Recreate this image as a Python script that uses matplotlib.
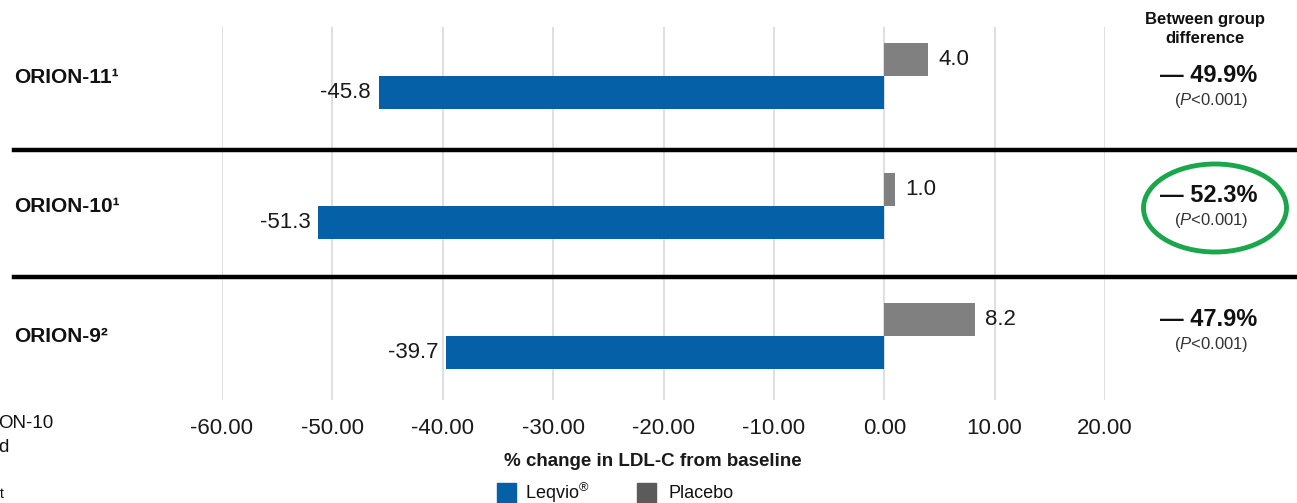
import matplotlib.pyplot as plt
from matplotlib.patches import Ellipse, Rectangle
from matplotlib.lines import Line2D

plt.rcParams['font.family'] = ['Liberation Sans', 'DejaVu Sans']
plt.rcParams['mathtext.fontset'] = 'custom'
plt.rcParams['mathtext.rm'] = 'Liberation Sans'
plt.rcParams['mathtext.it'] = 'Liberation Sans:italic'
plt.rcParams['mathtext.bf'] = 'Liberation Sans:bold'

trials = ["ORION-11", "ORION-10", "ORION-9"]
trial_refs = ["\u00b9", "\u00b9", "\u00b2"]
leqvio = [-45.8, -51.3, -39.7]
placebo = [4.0, 1.0, 8.2]
differences = ["49.9%", "52.3%", "47.9%"]
p_values = ["0.001", "0.001", "0.001"]
xticks = [-60, -50, -40, -30, -20, -10, 0, 10, 20]

blue = "#0560A8"
grey = "#808080"
legend_grey = "#5B5B5B"
text_col = "#1A1A1A"

W, H = 1297, 503
fig = plt.figure(figsize=(W / 100, H / 100), dpi=100)

ax_left, ax_right = 222 / W, 1105 / W
ax_top, ax_bottom = 1 - 27 / H, 1 - 400 / H
ax = fig.add_axes([ax_left, ax_bottom, ax_right - ax_left, ax_top - ax_bottom])

# y positions: row k centred between its two bars
ax.set_ylim(2.488, -0.373)
ax.set_xlim(-60, 20)

bar_h = 0.254
rows = list(range(len(trials)))
ax.barh([r + bar_h / 2 for r in rows], leqvio, height=bar_h, color=blue, zorder=3)
ax.barh([r - bar_h / 2 for r in rows], placebo, height=bar_h, color=grey, zorder=3)

for r, v in zip(rows, leqvio):
    ax.text(v - 0.7, r + bar_h / 2, f"{v:.1f}", ha="right", va="center",
            fontsize=16, color=text_col)
for r, v in zip(rows, placebo):
    ax.text(v + 0.9, r - bar_h / 2, f"{v:.1f}", ha="left", va="center",
            fontsize=16, color=text_col)

ax.set_xticks(xticks)
ax.set_xticklabels([f"{t:.2f}" for t in xticks], fontsize=16, color=text_col)
ax.tick_params(axis="x", length=0, pad=13)
ax.set_yticks([])
ax.grid(axis="x", color="#D9D9D9", linewidth=1.2, zorder=0)
for s in ax.spines.values():
    s.set_visible(False)


def fy(py):
    return 1 - py / H


def fx(px):
    return px / W


fig.text(fx(653), fy(462), "% change in LDL-C from baseline", fontsize=13.5,
         fontweight="bold", ha="center", va="center", color=text_col)

# row separators
for py in (150, 277):
    fig.add_artist(Line2D([fx(14), 1.0], [fy(py), fy(py)], color="black",
                          linewidth=3.2, transform=fig.transFigure))

# trial names with reference superscripts
for name, ref, py in zip(trials, trial_refs, (77, 207, 337)):
    fig.text(fx(14), fy(py), name + ref, fontsize=15,
             fontweight="bold", ha="left", va="center", color="#111111")

# between-group difference column
fig.text(fx(1205), fy(29), "Between group\ndifference", fontsize=12,
         fontweight="bold", ha="center", va="center", color="#111111",
         linespacing=1.3)
for diff, p, py in zip(differences, p_values, (75, 196, 320)):
    fig.text(fx(1209), fy(py), "\u2014 " + diff, fontsize=17, fontweight="bold",
             ha="center", va="center", color="#111111")
    fig.text(fx(1211), fy(py + 25), f"($\\mathit{{P}}$<{p})", fontsize=12,
             ha="center", va="center", color="#333333")

fig.add_artist(Ellipse((fx(1215), fy(208)), fx(143), 88 / H, fill=False,
                       edgecolor="#1AA64A", linewidth=3.5,
                       transform=fig.transFigure))

# legend
fig.add_artist(Rectangle((fx(497), fy(503)), fx(19), 20 / H, color=blue,
                         transform=fig.transFigure))
fig.text(fx(525), fy(493), "Leqvio$^{\\circledR}$", fontsize=13, ha="left",
         va="center", color="#111111")
fig.add_artist(Rectangle((fx(637), fy(503)), fx(19), 20 / H, color=legend_grey,
                         transform=fig.transFigure))
fig.text(fx(668), fy(493), "Placebo", fontsize=13, ha="left", va="center",
         color="#111111")

# text running in from the left edge
fig.text(fx(-2), fy(423), "ON-10", fontsize=13.5, ha="left", va="center",
         color="#111111")
fig.text(fx(-2), fy(447), "d", fontsize=13.5, ha="left", va="center",
         color="#111111")
fig.text(fx(0), fy(494), "t", fontsize=10, ha="left", va="center",
         color="#111111")

fig.savefig("out.png", dpi=100)
